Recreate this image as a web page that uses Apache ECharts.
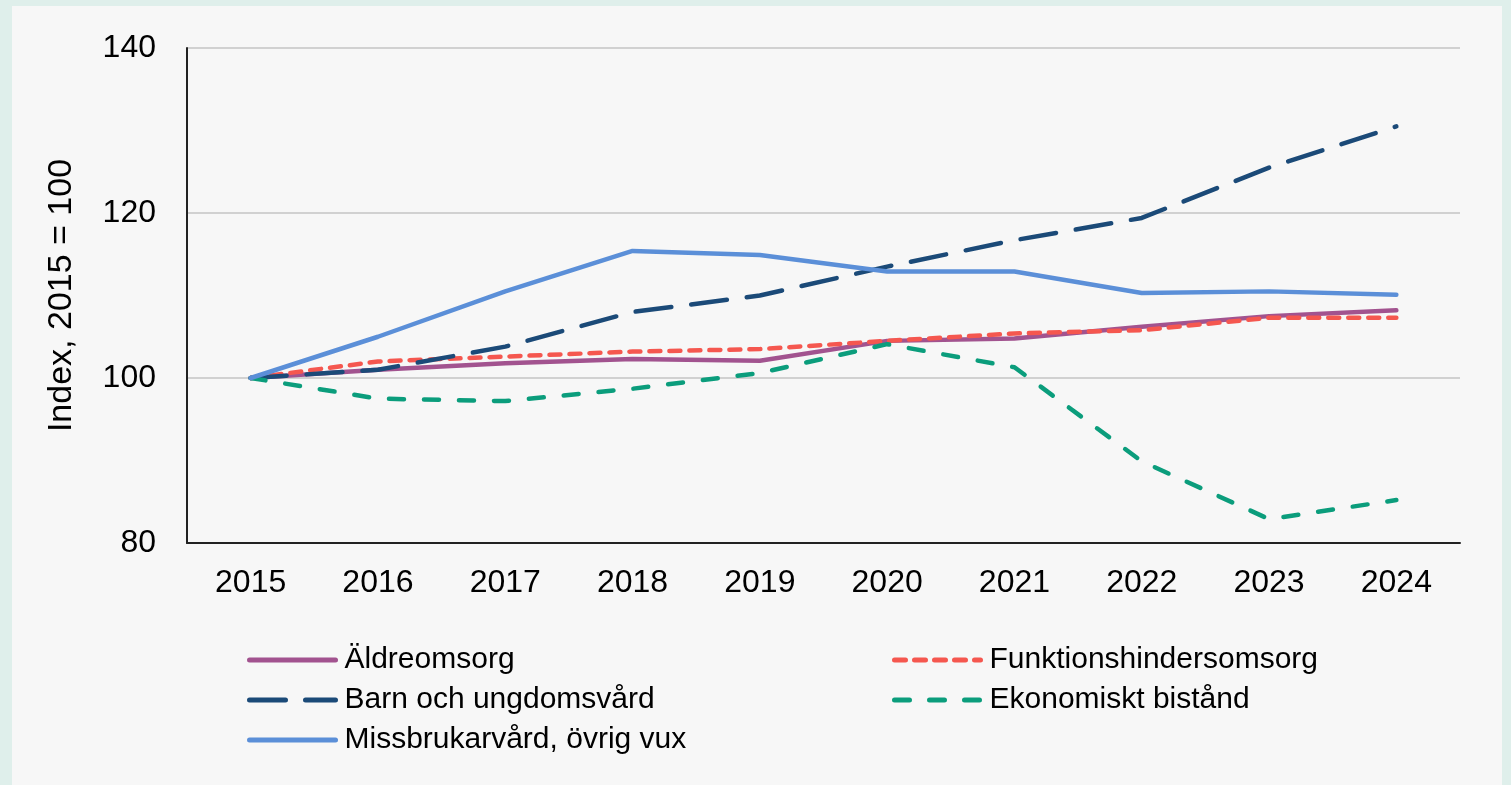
<!DOCTYPE html>
<html>
<head>
<meta charset="utf-8">
<script src="https://cdn.jsdelivr.net/npm/echarts@6/dist/echarts.min.js"></script>
<style>
  html, body { margin: 0; padding: 0; background: #dfefeb; }
  #chart { position: absolute; left: 12px; top: 6px; width: 1490px; height: 779px; background: #f7f7f7; }
</style>
</head>
<body>
<div id="chart"></div>
<script>
var years = ['2015', '2016', '2017', '2018', '2019', '2020', '2021', '2022', '2023', '2024'];
var aldre = [100, 101.0, 101.8, 102.3, 102.1, 104.5, 104.8, 106.2, 107.5, 108.2];
var funktion = [100, 102.0, 102.6, 103.2, 103.5, 104.5, 105.4, 105.8, 107.3, 107.3];
var barn = [100, 101.0, 103.8, 108.0, 110.0, 113.5, 116.7, 119.4, 125.5, 130.5];
var missbruk = [100, 105.0, 110.5, 115.4, 114.9, 112.9, 112.9, 110.3, 110.5, 110.1];
var ekonomi = [100, 97.5, 97.2, 98.7, 100.6, 104.1, 101.3, 89.9, 82.9, 85.2];

var font = '"Liberation Sans", Arial, sans-serif';

function mkSeries(name, data, color, type) {
	return {
		name: name,
		type: 'line',
		data: data,
		symbol: 'none',
		lineStyle: { color: color, width: 4.5, type: type, cap: 'round' },
		itemStyle: { color: color }
	};
}

var chart = echarts.init(document.getElementById('chart'));
var legendBase = {
	orient: 'vertical',
	top: 637,
	padding: 0,
	itemWidth: 86,
	itemHeight: 14,
	itemGap: 6,
	itemStyle: { opacity: 0 },
	lineStyle: { width: 5, cap: 'round' },
	textStyle: { color: '#000', fontSize: 30, fontFamily: font, lineHeight: 34, padding: [0, 0, 0, 4] }
};
var option = {
	animation: false,
	backgroundColor: '#f7f7f7',
	grid: { left: 175, right: 42, top: 42, bottom: 242 },
	legend: [
		Object.assign({}, legendBase, { left: 235, data: ['Äldreomsorg', 'Barn och ungdomsvård', 'Missbrukarvård, övrig vux'] }),
		Object.assign({}, legendBase, { left: 880, data: ['Funktionshindersomsorg', 'Ekonomiskt bistånd'] })
	],
	xAxis: {
		type: 'category',
		data: years,
		boundaryGap: true,
		axisLine: { lineStyle: { color: '#222', width: 2 } },
		axisTick: { show: false },
		axisLabel: { color: '#000', fontSize: 32, fontFamily: font, margin: 24 }
	},
	yAxis: {
		type: 'value',
		min: 80,
		max: 140,
		interval: 20,
		name: 'Index, 2015 = 100',
		nameLocation: 'middle',
		nameGap: 108,
		nameTextStyle: { color: '#000', fontSize: 34, fontFamily: font },
		axisLine: { show: true, lineStyle: { color: '#222', width: 2 } },
		axisTick: { show: false },
		axisLabel: { color: '#000', fontSize: 32, fontFamily: font, margin: 31 },
		splitLine: { lineStyle: { color: '#c4c4c4', width: 1.5 } }
	},
	series: [
		mkSeries('Äldreomsorg', aldre, '#a2538f', 'solid'),
		mkSeries('Funktionshindersomsorg', funktion, '#f5574f', [11, 9]),
		mkSeries('Barn och ungdomsvård', barn, '#1b4a78', [36, 20]),
		mkSeries('Ekonomiskt bistånd', ekonomi, '#0b9d7c', [15, 20]),
		mkSeries('Missbrukarvård, övrig vux', missbruk, '#5b8fd8', 'solid')
	]
};
chart.setOption(option);
</script>
</body>
</html>
